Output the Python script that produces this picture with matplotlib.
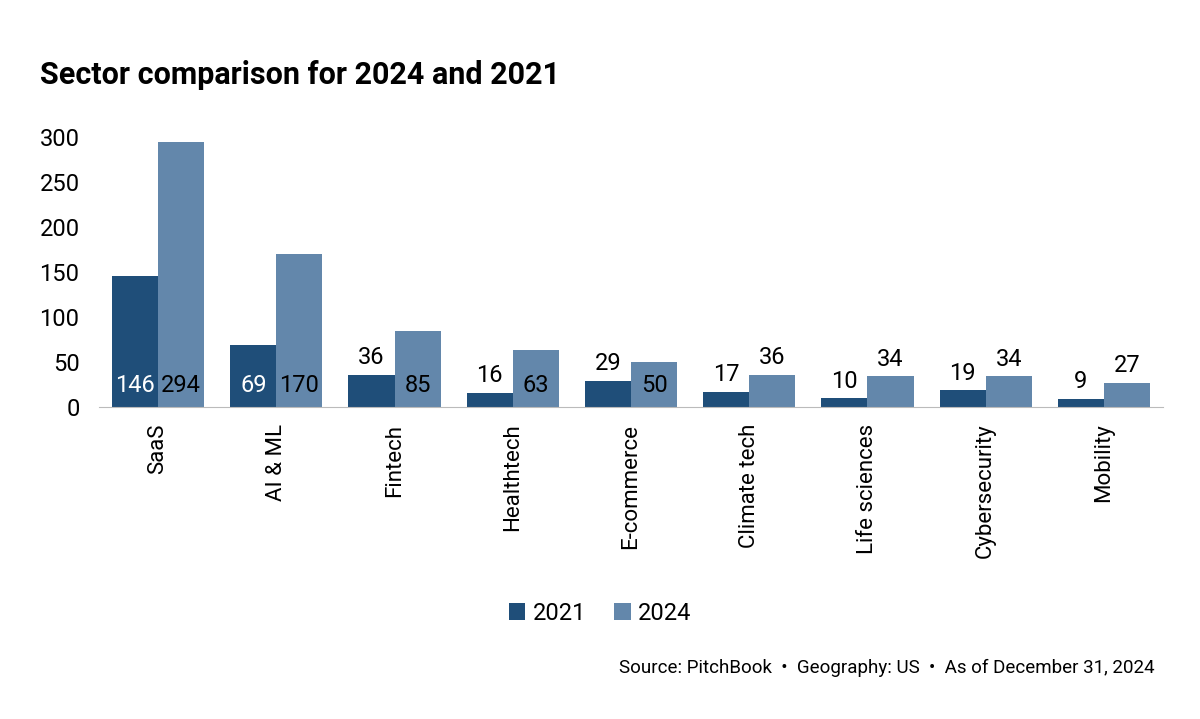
import numpy as np
import matplotlib.pyplot as plt

sectors = ["SaaS", "AI & ML", "Fintech", "Healthtech", "E-commerce",
           "Climate tech", "Life sciences", "Cybersecurity", "Mobility"]
v2021 = [146, 69, 36, 16, 29, 17, 10, 19, 9]
v2024 = [294, 170, 85, 63, 50, 36, 34, 34, 27]

c21 = "#1f4e79"
c24 = "#6387ab"
plt.rcParams['font.family'] = ['Roboto', 'DejaVu Sans']

fig = plt.figure(figsize=(12, 7.19), dpi=100)
ax = fig.add_axes([99/1200, 1 - 407/719, (1163-99)/1200, 270/719])

x = np.arange(len(sectors))
w = 0.39
b1 = ax.bar(x - w/2, v2021, w, color=c21, label="2021")
b2 = ax.bar(x + w/2, v2024, w, color=c24, label="2024")

for bars, vals, inner in [(b1, v2021, "white"), (b2, v2024, "black")]:
    for r, v in zip(bars, vals):
        cx = r.get_x() + r.get_width()/2
        if v >= 45:
            ax.text(cx, 24, str(v), ha="center", va="center", color=inner, fontsize=17)
        else:
            ax.text(cx, v + 6, str(v), ha="center", va="bottom", color="black", fontsize=17)

ax.set_xlim(-0.5, len(sectors) - 0.5)
ax.set_ylim(0, 300)
ax.set_yticks(range(0, 301, 50))
ax.set_xticks(x)
ax.set_xticklabels(sectors, rotation=90, fontsize=16)
ax.tick_params(axis="y", labelsize=17, length=0, pad=14)
ax.tick_params(axis="x", length=0, pad=12)
for s in ["top", "right", "left"]:
    ax.spines[s].set_visible(False)
ax.spines["bottom"].set_color("#bbbbbb")

fig.text(40/1200, 1 - 75/719, "Sector comparison for 2024 and 2021",
         fontsize=22, fontweight="bold", va="center")
fig.legend(loc="center", bbox_to_anchor=(0.5, 1 - 613/719), ncol=2, frameon=False,
           fontsize=17, handlelength=0.7, handleheight=0.7, columnspacing=1.2, handletextpad=0.3)
fig.text(1155/1200, 1 - 668/719,
         "Source: PitchBook  \u2022  Geography: US  \u2022  As of December 31, 2024",
         ha="right", va="center", fontsize=13.5)

fig.savefig("out.png", dpi=100, facecolor="white")
